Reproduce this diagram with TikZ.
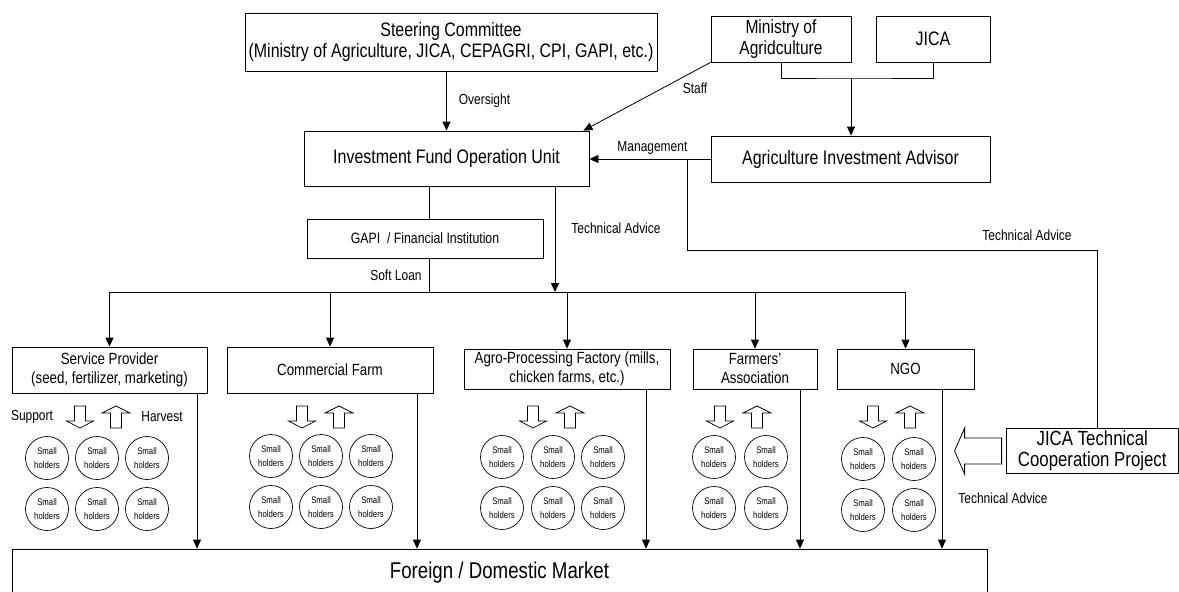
\documentclass[tikz,border=0pt]{standalone}
\usepackage{fontspec}
\setmainfont[FakeStretch=0.82]{Liberation Sans}
\usetikzlibrary{positioning,arrows.meta,calc}

\tikzset{
  fo-box/.style={
    draw=black, line width=0.8pt, align=center, inner sep=0pt,
    font=\fontsize{16.2}{19}\selectfont
  },
  fo-big/.style={fo-box, font=\fontsize{19.5}{22}\selectfont},
  fo-flow/.style={-{Triangle[width=8pt,length=9pt]}, line width=0.8pt},
  fo-line/.style={line width=0.8pt},
  fo-label/.style={font=\fontsize{14.6}{16}\selectfont, inner sep=1pt},
  fo-holder/.style={circle, draw, line width=0.7pt, minimum size=43pt,
    inner sep=0pt, align=center, font=\fontsize{9.5}{13.5}\selectfont},
  supportarrow/.pic={
    \draw[line width=0.7pt] (-5.5,-11) -- (5.5,-11) -- (5.5,4) -- (13.5,4)
      -- (0,11) -- (-13.5,4) -- (-5.5,4) -- cycle;},
  harvestarrow/.pic={
    \draw[line width=0.7pt] (-5.5,11) -- (5.5,11) -- (5.5,-4) -- (14,-4)
      -- (0,-11) -- (-14,-4) -- (-5.5,-4) -- cycle;}
}

\begin{document}
\begin{tikzpicture}[x=1pt, y=-1pt]
\useasboundingbox (0,0) rectangle (1179,592);
\clip (0,0) rectangle (1179,592);

% top
\node[fo-box, font=\fontsize{19.5}{20.5}\selectfont, minimum width=412pt,
  minimum height=58pt] (steer) at (451,42)
  {Steering Committee\\(Ministry of Agriculture, JICA, CEPAGRI, CPI, GAPI, etc.)};
\node[fo-box, font=\fontsize{19}{21.5}\selectfont, minimum width=140pt,
  minimum height=46pt] (mina) at (781,39) {Ministry of\\Agridculture};
\node[fo-box, font=\fontsize{19.5}{21}\selectfont, minimum width=114pt,
  minimum height=46pt] (jica) at (933,39) {JICA};
\node[fo-big, minimum width=285pt, minimum height=55pt] (ifou) at (446.5,158.5)
  {Investment Fund Operation Unit};
\node[fo-big, minimum width=279pt, minimum height=46pt] (aia) at (850.5,159)
  {Agriculture Investment Advisor};
\node[fo-box, font=\fontsize{15}{18}\selectfont, minimum width=236pt,
  minimum height=39pt] (gapi) at (425,238.5)
  {GAPI\ \ / Financial Institution};

% recipients
\node[fo-box, minimum width=195pt, minimum height=46pt] (sp) at (109.5,370)
  {Service Provider\\(seed, fertilizer, marketing)};
\node[fo-box, minimum width=206pt, minimum height=46pt] (cf) at (330,370)
  {Commercial Farm};
\node[fo-box, minimum width=206pt, minimum height=40pt] (agro) at (567,369)
  {Agro-Processing Factory (mills,\\chicken farms, etc.)};
\node[fo-box, minimum width=124pt, minimum height=40pt] (far) at (755,369)
  {Farmers'\\Association};
\node[fo-box, minimum width=137pt, minimum height=40pt] (ngo) at (905.5,369)
  {NGO};
\node[fo-box, font=\fontsize{20.5}{21.5}\selectfont, minimum width=172.5pt,
  minimum height=45pt] (jtcp) at (1092.25,450.5)
  {JICA Technical\\Cooperation Project};
\node[fo-box, font=\fontsize{22.8}{25}\selectfont, minimum width=975pt,
  minimum height=48pt] (market) at (499.5,573) {Foreign / Domestic Market};

% governance
\draw[fo-flow] (ifou.north |- steer.south) --
  node[fo-label, right=11pt]{Oversight} (ifou.north);
\draw[fo-flow] (mina.south west) -- ([xshift=-6pt]ifou.north east);
\node[fo-label] (stafflbl) at (695,88) {Staff};
\coordinate (mj) at (851,78);
\draw[fo-line] (mina.south) |- (mj) -| (jica.south);
\draw[fo-flow] (mj) -- (aia.north -| mj);
\draw[fo-flow] (aia.west) --
  node[fo-label, above=3pt, pos=0.48]{Management} (aia.west -| ifou.east);
\coordinate (tj) at (687,159);
\coordinate (tr) at (1097,250);
\draw[fo-line] (tj) |- (tr) -- (tr |- jtcp.north);
\node[fo-label] (talbl1) at (1027,235) {Technical Advice};

% funding
\coordinate (bus) at (0,292);
\draw[fo-line] (ifou.south -| 429,0) -- (gapi.north -| 429,0);
\draw[fo-line] (gapi.south -| 429,0) --
  node[fo-label, left=6pt]{Soft Loan} (bus -| 429,0);
\draw[fo-flow] (ifou.south -| 555,0) --
  node[fo-label, right=15pt, pos=0.4]{Technical Advice} (bus -| 555,0);
\draw[fo-line] (bus -| sp.north) -- (bus -| ngo.north);
\foreach \b in {sp,cf,agro,far,ngo}
  \draw[fo-flow] (bus -| \b.north) -- (\b.north);
\foreach \b/\x in {sp/197,cf/417,agro/646,far/800,ngo/942}
  \draw[fo-flow] (\b.south -| \x,0) -- (market.north -| \x,0);

% smallholders
\foreach \xd/\xu in {80/116,302/339,533/570,720/757,873/910}{
  \pic at (\xd,417) {supportarrow};
  \pic at (\xu,417) {harvestarrow};
}
\node[fo-label] (suplbl) at (32,417) {Support};
\node[fo-label] (harlbl) at (162,417) {Harvest};
\foreach \x in {47,97,147} \foreach \y in {458,509}
  \node[fo-holder] (sp-\x-\y) at (\x,\y) {Small\\holders};
\foreach \x in {271,321,371} \foreach \y in {456,507}
  \node[fo-holder] (cf-\x-\y) at (\x,\y) {Small\\holders};
\foreach \x in {502,553,603} \foreach \y in {457,508}
  \node[fo-holder] (agro-\x-\y) at (\x,\y) {Small\\holders};
\foreach \x in {714,766} \foreach \y in {457,508}
  \node[fo-holder] (far-\x-\y) at (\x,\y) {Small\\holders};
\foreach \x in {863,914} \foreach \y in {459,510}
  \node[fo-holder] (ngo-\x-\y) at (\x,\y) {Small\\holders};

% JICA TCP advice
\draw[fo-line] ([xshift=-4pt]jtcp.west) ++(0,-12.5) -- ++(-37,0) -- ++(0,-10)
  -- ++(-10,23) -- ++(10,23) -- ++(0,-10) -- ++(37,0) -- cycle;
\node[fo-label] (talbl2) at (1003,498) {Technical Advice};
\end{tikzpicture}
\end{document}
